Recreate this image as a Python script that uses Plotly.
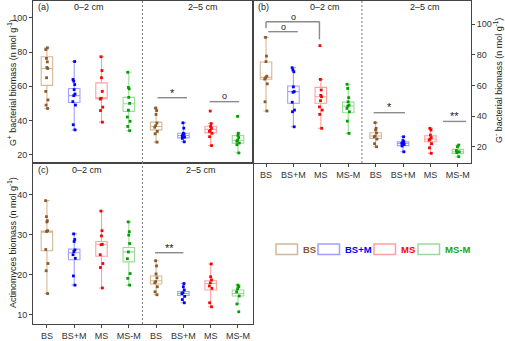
import plotly.graph_objects as go

# ---------------- data ----------------
categories = ["BS", "BS+M", "MS", "MS-M"]
depths = ["0–2 cm", "2–5 cm"]

# Panel (a) G+ bacterial biomass
gpos_02_pts = {
    "BS": [82.5, 81.5, 76.3, 74.3, 71.0, 70.4, 65.0, 57.0, 52.0, 49.0, 47.0],
    "BS+M": [74.5, 64.0, 63.0, 61.0, 58.0, 55.5, 54.5, 51.0, 49.0, 37.5, 34.5],
    "MS": [77.3, 69.2, 65.0, 57.0, 53.0, 52.5, 47.8, 45.8, 39.0],
    "MS-M": [68.2, 59.3, 58.5, 53.5, 50.0, 46.0, 42.0, 39.5, 36.5, 34.0],
}
gpos_25_pts = {
    "BS": [47.3, 45.8, 43.5, 38.5, 37.0, 36.0, 33.6, 32.2, 27.3],
    "BS+M": [38.6, 35.5, 32.5, 32.0, 31.5, 31.0, 30.2, 29.5, 27.5],
    "MS": [45.5, 38.2, 36.5, 35.5, 34.2, 33.6, 32.5, 30.5, 25.3],
    "MS-M": [42.4, 32.5, 31.2, 30.0, 28.5, 27.8, 26.8, 25.8, 21.0],
}
# box statistics: q1, median, q3, lower whisker, upper whisker
gpos_02_box = {
    "BS": [60.5, 70.4, 77.3, 47.0, 82.5],
    "BS+M": [50.5, 54.5, 58.7, 34.5, 74.5],
    "MS": [52.7, 53.2, 62.0, 39.0, 77.3],
    "MS-M": [45.3, 49.8, 53.5, 34.0, 68.2],
}
gpos_25_box = {
    "BS": [34.5, 36.5, 39.0, 27.3, 47.3],
    "BS+M": [29.8, 31.2, 32.5, 27.5, 38.6],
    "MS": [32.7, 34.8, 36.6, 25.3, 38.2],
    "MS-M": [26.7, 28.4, 31.2, 21.0, 32.5],
}

# Panel (b) G- bacterial biomass
gneg_02_pts = {
    "BS": [91.3, 79.1, 75.5, 66.0, 65.0, 64.1, 61.0, 49.3, 43.3],
    "BS+M": [71.5, 70.0, 68.9, 59.0, 56.0, 55.5, 49.0, 43.9, 42.8, 33.0],
    "MS": [85.9, 63.9, 57.0, 53.5, 52.6, 50.0, 46.0, 43.9, 41.1, 32.0],
    "MS-M": [60.7, 58.0, 52.0, 49.3, 47.2, 46.5, 45.0, 42.8, 36.7, 28.7],
}
gneg_25_pts = {
    "BS": [35.7, 32.0, 31.0, 29.0, 27.0, 26.5, 25.0, 22.0, 20.0],
    "BS+M": [26.5, 24.0, 23.3, 22.5, 22.2, 21.5, 20.5, 16.7],
    "MS": [32.0, 30.9, 27.6, 26.0, 25.0, 24.3, 22.0, 19.3, 15.7],
    "MS-M": [21.1, 20.0, 17.5, 16.7, 16.2, 13.5],
}
gneg_02_box = {
    "BS": [64.0, 65.2, 75.2, 43.3, 91.3],
    "BS+M": [48.3, 55.9, 59.6, 33.0, 71.5],
    "MS": [48.3, 52.6, 58.7, 32.0, 63.9],
    "MS-M": [42.2, 46.5, 49.1, 28.7, 60.7],
}
gneg_25_box = {
    "BS": [25.4, 27.0, 29.1, 20.0, 35.7],
    "BS+M": [20.7, 22.2, 23.3, 16.7, 26.5],
    "MS": [23.3, 25.0, 27.2, 15.7, 32.0],
    "MS-M": [15.7, 16.7, 18.3, 13.5, 21.1],
}

# Panel (c) Actinomyces biomass
act_02_pts = {
    "BS": [38.5, 34.5, 33.5, 33.2, 31.0, 30.8, 26.3, 22.8, 21.0, 15.3],
    "BS+M": [30.2, 28.8, 28.3, 26.2, 25.8, 25.0, 24.1, 19.7, 17.4],
    "MS": [35.9, 31.0, 29.7, 27.6, 27.5, 25.0, 22.8, 21.8, 16.7],
    "MS-M": [33.2, 30.75, 29.9, 27.8, 25.7, 24.0, 20.3, 19.1, 17.4],
}
act_25_pts = {
    "BS": [23.5, 22.2, 20.2, 19.2, 18.3, 18.0, 17.0, 15.75, 15.0],
    "BS+M": [17.8, 17.0, 16.2, 15.5, 15.3, 14.6, 13.8, 13.0],
    "MS": [22.7, 19.5, 18.7, 18.0, 17.2, 16.6, 13.0, 12.0],
    "MS-M": [17.4, 17.0, 16.5, 15.75, 14.7, 12.7, 10.75],
}
act_02_box = {
    "BS": [26.0, 30.75, 30.9, 15.3, 38.5],
    "BS+M": [23.75, 25.5, 26.4, 17.4, 30.2],
    "MS": [24.6, 27.6, 28.3, 16.7, 35.9],
    "MS-M": [23.2, 25.7, 26.8, 17.4, 33.2],
}
act_25_box = {
    "BS": [17.7, 18.5, 19.7, 15.0, 23.5],
    "BS+M": [14.8, 15.3, 15.8, 13.0, 17.8],
    "MS": [16.2, 17.8, 18.5, 12.0, 22.7],
    "MS-M": [14.7, 15.3, 16.2, 12.7, 17.4],
}

# ---------------- styles ----------------
point_colors = ["#8B5A2B", "#0000FF", "#FF0000", "#00A000"]
box_colors = ["#D4B896", "#A0A0FF", "#FFA0A0", "#9CDA9C"]
legend_text_colors = ["#8B5A2B", "#0000FF", "#FF0000", "#1AA31A"]
FONT = "Liberation Sans, Arial, sans-serif"
AXCOL = "#444444"

W, H = 505, 341


def px(x):
    return x / W


def py(y):
    return 1 - y / H


fig = go.Figure()

panels = [
    ("x", "y", gpos_02_pts, gpos_25_pts, gpos_02_box, gpos_25_box, 0.42),
    ("x2", "y2", gneg_02_pts, gneg_25_pts, gneg_02_box, gneg_25_box, 0.42),
    ("x3", "y3", act_02_pts, act_25_pts, act_02_box, act_25_box, 0.42),
]

for xa, ya, p02, p25, b02, b25, bw in panels:
    for d, (pts, box) in enumerate([(p02, b02), (p25, b25)]):
        for ci, cat in enumerate(categories):
            pos = d * 4 + ci + 1
            q1, med, q3, lo, hi = box[cat]
            fig.add_trace(go.Box(
                x=[pos], q1=[q1], median=[med], q3=[q3],
                lowerfence=[lo], upperfence=[hi],
                width=bw, whiskerwidth=0.45,
                fillcolor="rgba(255,255,255,0)",
                line=dict(color=box_colors[ci], width=1.1),
                boxpoints=False, showlegend=False,
                xaxis=xa, yaxis=ya, hoverinfo="skip",
            ))
            vals = pts[cat]
            fig.add_trace(go.Box(
                x=[pos] * len(vals), y=vals,
                boxpoints="all", jitter=0.3, pointpos=0,
                width=bw,
                fillcolor="rgba(0,0,0,0)",
                line=dict(color="rgba(0,0,0,0)", width=0),
                marker=dict(color=point_colors[ci], size=2.8, symbol="square"),
                showlegend=False, xaxis=xa, yaxis=ya, hoveron="points",
            ))

tickfont = dict(family=FONT, size=9, color="#333333")
tickvals_x = list(range(1, 9))
ticktext_x = categories * 2

common = dict(showline=True, linecolor=AXCOL, linewidth=1, mirror=True,
              showgrid=False, zeroline=False, tickfont=tickfont,
              tickcolor=AXCOL, ticklen=3, tickwidth=1)

fig.update_layout(
    width=W, height=H,
    margin=dict(l=0, r=0, t=0, b=0),
    paper_bgcolor="white", plot_bgcolor="white",
    font=dict(family=FONT, size=9, color="#333333"),
    boxmode="overlay",
    xaxis=dict(domain=[px(33), px(253)], range=[0.49, 8.55], anchor="y",
               ticks="", showticklabels=False, **common),
    yaxis=dict(domain=[py(163), py(1)], range=[15.1, 109.9], anchor="x",
               ticks="outside", tickvals=[20, 40, 60, 80, 100], **common),
    xaxis2=dict(domain=[px(253), px(471)], range=[0.525, 8.48], anchor="y2",
                ticks="outside", tickvals=tickvals_x, ticktext=ticktext_x, **common),
    yaxis2=dict(domain=[py(163), py(1)], range=[9.4, 115], anchor="x2", side="right",
                ticks="outside", tickvals=[20, 40, 60, 80, 100], **common),
    xaxis3=dict(domain=[px(33), px(253)], range=[0.49, 8.55], anchor="y3",
                ticks="outside", tickvals=tickvals_x, ticktext=ticktext_x, **common),
    yaxis3=dict(domain=[py(324), py(163)], range=[7.7, 47.9], anchor="x3",
                ticks="outside", tickvals=[10, 20, 30, 40], **common),
)

shapes = []
annotations = []

# dashed separators between depths
for xa, ya in [("x", "y"), ("x2", "y2"), ("x3", "y3")]:
    shapes.append(dict(type="line", xref=xa, yref=ya + " domain", x0=4.5, x1=4.5,
                       y0=0, y1=1, line=dict(color="#777777", width=1, dash="2px,2px")))

# panel labels and depth labels
label_font = dict(family=FONT, size=9, color="#222222")
for xa, ya, lab, yl, depth_x in [
    ("x", "y", "(a)", 7, (2.55, 6.7)),
    ("x2", "y2", "(b)", 7, (3.15, 6.8)),
    ("x3", "y3", "(c)", 170, (2.45, 6.65)),
]:
    xdom = {"x": px(33), "x2": px(253), "x3": px(33)}[xa]
    annotations.append(dict(text=lab, xref="paper", yref="paper",
                            x=xdom + px(3), y=py(yl), xanchor="left", yanchor="middle",
                            showarrow=False, font=label_font))
    for dx, dl in zip(depth_x, depths):
        annotations.append(dict(text=dl, xref=xa, yref="paper", x=dx, y=py(yl),
                                xanchor="center", yanchor="middle", showarrow=False,
                                font=label_font))

# significance marks: (xaxis, yaxis, x0, x1, y_line, label, y_label)
significance = [
    ("x", "y", 5.05, 6.13, 53.3, "*", 56.0),
    ("x", "y", 6.96, 8.04, 51.0, "o", 54.5),
    ("x2", "y2", 4.93, 6.07, 42.2, "*", 45.8),
    ("x2", "y2", 7.46, 8.3, 36.5, "**", 39.8),
    ("x3", "y3", 4.96, 6.0, 25.5, "**", 26.6),
    ("x2", "y2", 1.08, 2.16, 95.0, "o", 97.8),
]
for xa, ya, x0, x1, yv, lab, yt in significance:
    shapes.append(dict(type="line", xref=xa, yref=ya, x0=x0, x1=x1, y0=yv, y1=yv,
                       line=dict(color="#8A8A8A", width=1.4)))
    annotations.append(dict(text=lab, xref=xa, yref=ya, x=(x0 + x1) / 2, y=yt,
                            xanchor="center", yanchor="middle", showarrow=False,
                            font=dict(family=FONT, size=11 if "*" in lab else 9,
                                      color="#222222")))

# bracket BS vs MS in panel (b) 0-2 cm
bracket = [(1.0, 97.2), (1.0, 101.5), (2.95, 101.5), (2.95, 90.0)]
for (xa0, ya0), (xa1, ya1) in zip(bracket[:-1], bracket[1:]):
    shapes.append(dict(type="line", xref="x2", yref="y2", x0=xa0, x1=xa1, y0=ya0, y1=ya1,
                       line=dict(color="#8A8A8A", width=1.4)))
annotations.append(dict(text="o", xref="x2", yref="y2", x=2.0, y=104.5,
                        xanchor="center", yanchor="middle", showarrow=False,
                        font=dict(family=FONT, size=9, color="#222222")))

# axis titles
title_font = dict(family=FONT, size=9, color="#222222")
annotations.append(dict(text="G<sup>+</sup> bacterial biomass (n mol g<sup>-1</sup>)",
                        xref="paper", yref="paper", x=px(12), y=py(83), textangle=-90,
                        xanchor="center", yanchor="middle", showarrow=False, font=title_font))
annotations.append(dict(text="Actinomyces biomass (n mol g<sup>-1</sup>)",
                        xref="paper", yref="paper", x=px(12), y=py(243), textangle=-90,
                        xanchor="center", yanchor="middle", showarrow=False, font=title_font))
annotations.append(dict(text="G<sup>-</sup> bacterial biomass (n mol g<sup>-1</sup>)",
                        xref="paper", yref="paper", x=px(498), y=py(81), textangle=-90,
                        xanchor="center", yanchor="middle", showarrow=False, font=title_font))

# manual legend
leg_x = [276, 318, 374, 418]
for i, cat in enumerate(categories):
    x0 = leg_x[i]
    shapes.append(dict(type="rect", xref="paper", yref="paper",
                       x0=px(x0), x1=px(x0 + 21.5), y0=py(254.5), y1=py(244),
                       line=dict(color=box_colors[i], width=1.5),
                       fillcolor="rgba(255,255,255,0)"))
    annotations.append(dict(text="<b>%s</b>" % cat, xref="paper", yref="paper",
                            x=px(x0 + 24.5), y=py(249.5), xanchor="left", yanchor="middle",
                            showarrow=False,
                            font=dict(family=FONT, size=9.5, color=legend_text_colors[i])))

fig.update_layout(shapes=shapes, annotations=annotations)
fig.write_html("out.html")
